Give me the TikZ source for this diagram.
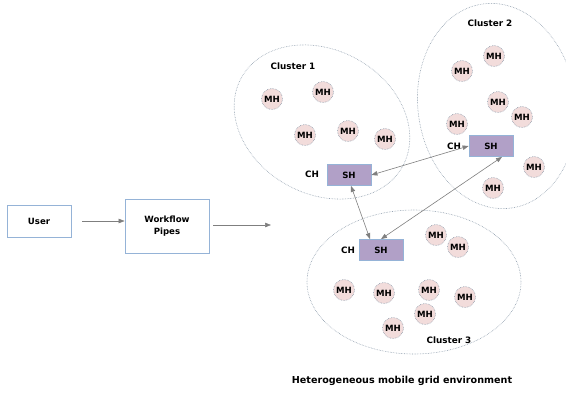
\documentclass[tikz,border=0pt]{standalone}
\usepackage{fontspec}
\setmainfont{DejaVu Sans}
\usetikzlibrary{arrows.meta}

\definecolor{mhfill}{HTML}{F2DCDB}
\definecolor{shfill}{HTML}{B1A0C7}
\definecolor{boxline}{HTML}{95B3D7}
\definecolor{ringline}{HTML}{8C9BAB}
\definecolor{flowgray}{HTML}{7F7F7F}

\tikzset{
	mh/.style={circle, draw=ringline, densely dotted, line width=0.6pt, fill=mhfill, minimum size=21pt, inner sep=0pt, font=\bfseries\fontsize{8.6}{10}\selectfont},
	sh/.style={rectangle, draw=boxline, line width=0.8pt, fill=shfill, minimum width=44pt, minimum height=21pt, inner sep=0pt, font=\bfseries\fontsize{8.6}{10}\selectfont},
	box/.style={rectangle, draw=boxline, line width=0.8pt, minimum width=64pt, minimum height=32pt, inner sep=0pt, align=center, font=\bfseries\fontsize{8.6}{11.5}\selectfont},
	txt/.style={inner sep=0pt, font=\bfseries\fontsize{8.8}{10}\selectfont},
	cluster/.style={draw=ringline, densely dotted, line width=0.6pt},
	flow/.style={draw=flowgray, line width=0.6pt, -{Triangle[length=6pt,width=4.5pt]}},
	link/.style={draw=flowgray, line width=0.6pt, {Triangle[length=6pt,width=4.5pt]}-{Triangle[length=6pt,width=4.5pt]}}
}

\begin{document}
\begin{tikzpicture}[x=1pt, y=-1pt]
	\useasboundingbox (0,0) rectangle (566,392);
	\clip (0,0) rectangle (566,392);

	% clusters
	\coordinate (c1) at (322,122);
	\coordinate (c2) at (497,106);
	\coordinate (c3) at (414,282);
	\draw[cluster, rotate around={-28.7:(c1)}] (c1) ellipse [x radius=92pt, y radius=72pt];
	\draw[cluster, rotate around={8:(c2)}] (c2) ellipse [x radius=79pt, y radius=103pt];
	\draw[cluster] (c3) ellipse [x radius=107pt, y radius=72pt];

	\node[txt] (lab1) at (293,66) {Cluster 1};
	\node[txt] (lab2) at (490,23) {Cluster 2};
	\node[txt] (lab3) at (449,340) {Cluster 3};

	% user and workflow
	\node[box] (user) at (39,221) {User};
	\node[box, minimum width=84pt, minimum height=54pt] (wf) at (167,226) {Workflow\\Pipes};
	\coordinate (env) at (271,225);
	\draw[flow] ([xshift=11pt]user.east) -- (wf.west |- user.east);
	\draw[flow] ([xshift=4pt]wf.east |- env) -- (env);

	% cluster heads
	\node[sh] (sh1) at (349,175) {SH};
	\node[sh] (sh2) at (491,146) {SH};
	\node[sh] (sh3) at (381,250) {SH};
	\node[txt] (ch1) at (312,174) {CH};
	\node[txt] (ch2) at (454,146) {CH};
	\node[txt] (ch3) at (348,250) {CH};

	% mobile hosts
	\node[mh] (m11) at (272,99) {MH};
	\node[mh] (m12) at (323,92) {MH};
	\node[mh] (m13) at (305,135) {MH};
	\node[mh] (m14) at (348,131) {MH};
	\node[mh] (m15) at (385,139) {MH};

	\node[mh] (m21) at (494,56) {MH};
	\node[mh] (m22) at (462,71) {MH};
	\node[mh] (m23) at (498,102) {MH};
	\node[mh] (m24) at (522,117) {MH};
	\node[mh] (m25) at (457,124) {MH};
	\node[mh] (m26) at (534,167) {MH};
	\node[mh] (m27) at (493,188) {MH};

	\node[mh] (m31) at (436,235) {MH};
	\node[mh] (m32) at (458,247) {MH};
	\node[mh] (m33) at (344,290) {MH};
	\node[mh] (m34) at (384,293) {MH};
	\node[mh] (m35) at (429,290) {MH};
	\node[mh] (m36) at (465,297) {MH};
	\node[mh] (m37) at (425,314) {MH};
	\node[mh] (m38) at (393,328) {MH};

	% links between heads
	\draw[link] (sh1.east) -- (sh2.west);
	\draw[link] ([xshift=2pt]sh1.south) -- ([xshift=-11pt]sh3.north);
	\draw[link] (sh3.north) -- ([xshift=11pt]sh2.south);

	\node[txt, font=\bfseries\fontsize{9.6}{11}\selectfont] (title) at (402,381) {Heterogeneous mobile grid environment};
\end{tikzpicture}
\end{document}
